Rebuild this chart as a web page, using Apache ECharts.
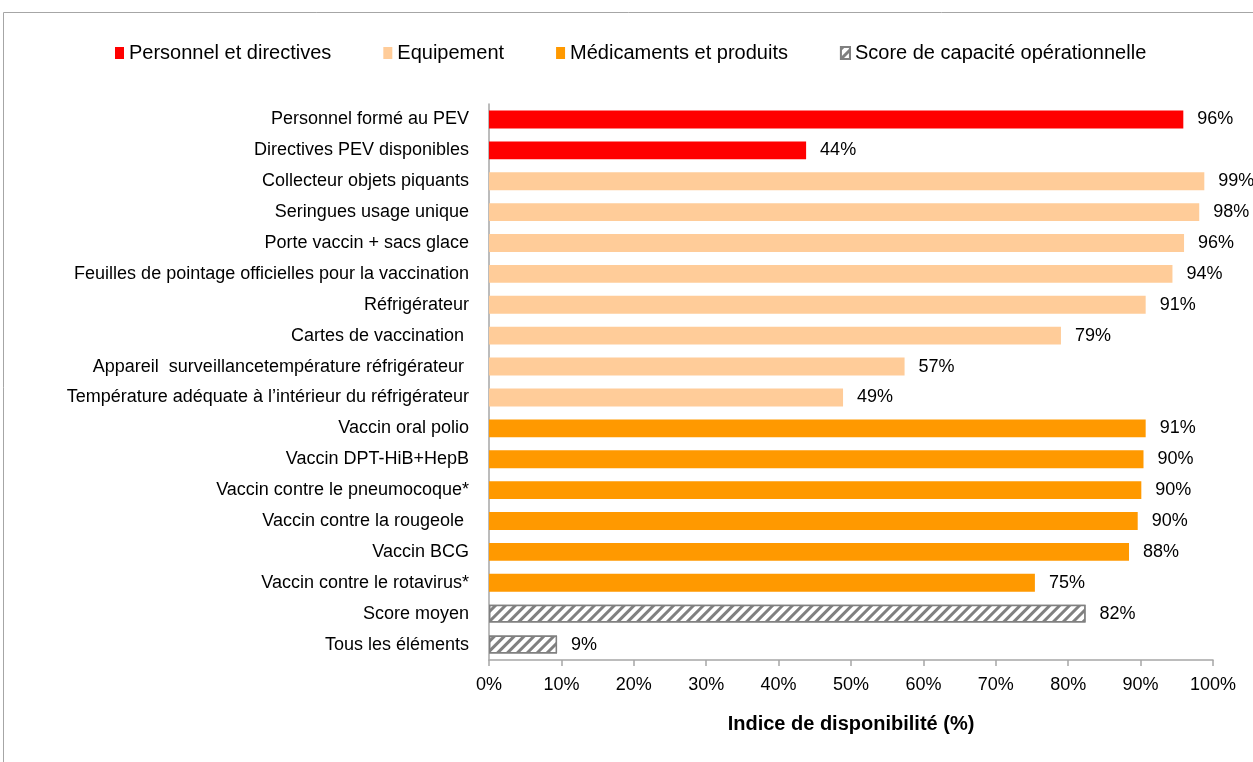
<!DOCTYPE html>
<html>
<head>
    <meta http-equiv="Content-Type" content="text/html; charset=UTF-8" />
    <title>Indice de disponibilité</title>
    <script src="https://cdn.jsdelivr.net/npm/echarts@6/dist/echarts.min.js"></script>
    <style>
        body { margin: 0; background: #fff; }
    </style>
</head>
<body>
<div id="main" style="width: 1253px;height:762px;"></div>
<script type="text/javascript">
    // categories, top to bottom
    var categories = [
        'Personnel formé au PEV',
        'Directives PEV disponibles',
        'Collecteur objets piquants',
        'Seringues usage unique',
        'Porte vaccin + sacs glace',
        'Feuilles de pointage officielles pour la vaccination',
        'Réfrigérateur',
        'Cartes de vaccination ',
        'Appareil  surveillancetempérature réfrigérateur ',
        'Température adéquate à l\u2019intérieur du réfrigérateur',
        'Vaccin oral polio',
        'Vaccin DPT-HiB+HepB',
        'Vaccin contre le pneumocoque*',
        'Vaccin contre la rougeole ',
        'Vaccin BCG',
        'Vaccin contre le rotavirus*',
        'Score moyen',
        'Tous les éléments'
    ];
    var values = [95.9, 43.8, 98.8, 98.1, 96.0, 94.4, 90.7, 79.0, 57.4, 48.9,
                  90.7, 90.4, 90.1, 89.6, 88.4, 75.4, 82.4, 9.4];
    // which legend group each category belongs to (index into seriesNames)
    var groups = [0, 0, 1, 1, 1, 1, 1, 1, 1, 1, 2, 2, 2, 2, 2, 2, 3, 3];
    var seriesNames = ['Personnel et directives', 'Equipement', 'Médicaments et produits', 'Score de capacité opérationnelle'];
    var xTicks = [0, 10, 20, 30, 40, 50, 60, 70, 80, 90, 100];

    var myChart = echarts.init(document.getElementById('main'));
    var font = "'Liberation Sans Narrow', 'Arial Narrow', 'Liberation Sans', sans-serif";

    var styles = [
        { color: '#ff0000' },
        { color: '#ffcc99' },
        { color: '#ff9900' },
        {
            color: '#ffffff',
            borderColor: '#808080',
            borderWidth: 1.5,
            decal: {
                symbol: 'rect',
                symbolSize: 1,
                color: '#808080',
                backgroundColor: '#ffffff',
                dashArrayX: [1, 0],
                dashArrayY: [3, 4],
                rotation: -Math.PI / 4
            }
        }
    ];

    var series = seriesNames.map(function (name, g) {
        return {
            name: name,
            type: 'bar',
            stack: 'all',
            barCategoryGap: '42%',
            itemStyle: styles[g],
            label: {
                show: true,
                position: 'right',
                distance: 14,
                fontFamily: font,
                fontSize: 18,
                color: '#000',
                formatter: function (p) { return Math.round(p.value) + '%'; }
            },
            data: values.map(function (v, i) { return groups[i] === g ? v : '-'; })
        };
    });

    var option = {
        animation: false,
        textStyle: { fontFamily: font },
        graphic: [{
            type: 'rect',
            shape: { x: 3.5, y: 12.5, width: 1300, height: 800 },
            style: { fill: 'none', stroke: '#a6a6a6', lineWidth: 1 },
            silent: true
        }],
        legend: {
            top: 38,
            left: 110,
            itemGap: 52,
            itemWidth: 9,
            itemHeight: 12,
            icon: 'rect',
            textStyle: { fontFamily: font, fontSize: 20, color: '#000' },
            data: seriesNames
        },
        grid: {
            left: 489,
            right: 40,
            top: 104,
            bottom: 102,
            containLabel: false
        },
        xAxis: {
            type: 'value',
            min: 0,
            max: 100,
            interval: 10,
            name: 'Indice de disponibilité (%)',
            nameLocation: 'middle',
            nameGap: 54,
            nameTextStyle: { fontFamily: font, fontSize: 20, fontWeight: 'bold', color: '#000' },
            axisLine: { show: true, lineStyle: { color: '#a6a6a6', width: 1.5 } },
            axisTick: { show: true, length: 6, lineStyle: { color: '#a6a6a6', width: 1.5 } },
            splitLine: { show: false },
            axisLabel: {
                fontFamily: font,
                fontSize: 18,
                color: '#000',
                margin: 16,
                formatter: function (v) { return xTicks.indexOf(v) >= 0 ? v + '%' : ''; }
            }
        },
        yAxis: {
            type: 'category',
            inverse: true,
            data: categories,
            axisLine: { show: true, lineStyle: { color: '#a6a6a6', width: 1.5 } },
            axisTick: { show: false },
            axisLabel: {
                fontFamily: font,
                fontSize: 18,
                color: '#000',
                margin: 20
            }
        },
        series: series
    };

    myChart.setOption(option);
</script>
</body>
</html>
